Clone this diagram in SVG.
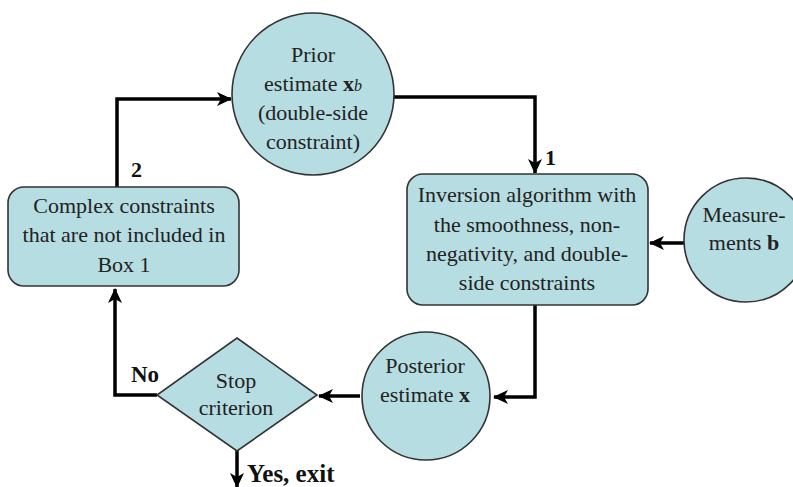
<svg xmlns="http://www.w3.org/2000/svg" width="793" height="487" viewBox="0 0 793 487">
<style>
.n{fill:#b6dde1;stroke:#333;stroke-width:1.6}
.t{font-family:"Liberation Serif","Times New Roman",serif;font-size:22px;fill:#222;text-anchor:middle}
.b{font-weight:bold}
.c{fill:none;stroke:#000;stroke-width:3.5;marker-end:url(#ah)}
.l{font-family:"Liberation Serif","Times New Roman",serif;font-size:22px;font-weight:bold;fill:#111}
</style>
<defs>
<marker id="ah" markerUnits="userSpaceOnUse" markerWidth="16" markerHeight="16" viewBox="0 0 16 16" refX="14" refY="8" orient="auto">
<path d="M0,1 L15,8 L0,15 L4,8 Z" fill="#000"/>
</marker>
</defs>
<rect width="793" height="487" fill="#fff"/>
<g id="connectors">
<polyline class="c" points="393,97 535,97 535,173"/>
<polyline class="c" points="535,305 535,397 494,397"/>
<polyline class="c" points="360,396 319,396"/>
<polyline class="c" points="684,243 650,243"/>
<polyline class="c" points="157,395 115,395 115,289"/>
<polyline class="c" points="117,187 117,99 231,99"/>
<polyline class="c" points="237,450 237,487"/>
</g>
<g id="prior">
<circle class="n" cx="313" cy="94" r="81"/>
<text class="t" x="313" y="62">Prior</text>
<text class="t" x="313" y="91">estimate <tspan class="b">x</tspan><tspan font-style="italic" font-size="16">b</tspan></text>
<text class="t" x="313" y="120">(double-side</text>
<text class="t" x="313" y="149">constraint)</text>
</g>
<g id="inversion">
<rect class="n" x="407" y="174" width="241" height="131" rx="16"/>
<text class="t" x="527" y="202">Inversion algorithm with</text>
<text class="t" x="527" y="232">the smoothness, non-</text>
<text class="t" x="527" y="261">negativity, and double-</text>
<text class="t" x="527" y="290">side constraints</text>
</g>
<g id="measurements">
<circle class="n" cx="746" cy="240" r="62"/>
<text class="t" x="744" y="222">Measure-</text>
<text class="t" x="744" y="250">ments <tspan class="b">b</tspan></text>
</g>
<g id="complex">
<rect class="n" x="8" y="187" width="231" height="99" rx="16"/>
<text class="t" x="124" y="213">Complex constraints</text>
<text class="t" x="124" y="242">that are not included in</text>
<text class="t" x="124" y="272">Box 1</text>
</g>
<g id="posterior">
<circle class="n" cx="426" cy="396" r="64"/>
<text class="t" x="425" y="373">Posterior</text>
<text class="t" x="425" y="402">estimate <tspan class="b">x</tspan></text>
</g>
<g id="stop">
<polygon class="n" points="237,338 317,395 237,451 157,395"/>
<text class="t" x="236" y="388">Stop</text>
<text class="t" x="236" y="415">criterion</text>
</g>
<g id="labels">
<text class="l" x="545" y="165">1</text>
<text class="l" x="131" y="177">2</text>
<text class="l" x="131" y="382" style="font-size:23px">No</text>
<text class="l" x="247" y="482" style="font-size:25px">Yes, exit</text>
</g>
</svg>
